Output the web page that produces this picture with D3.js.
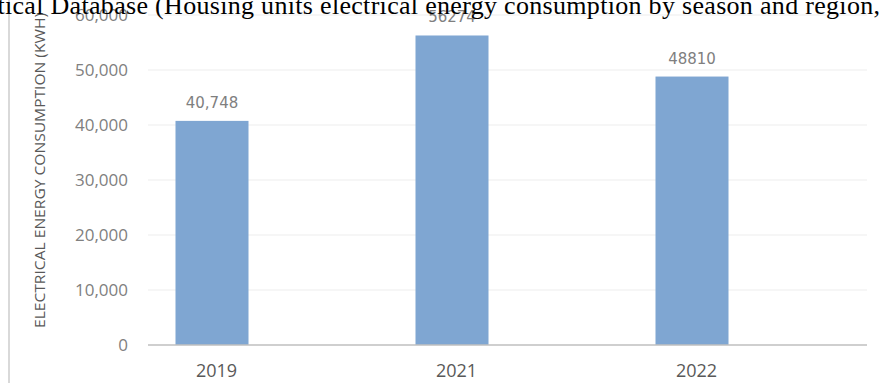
<!DOCTYPE html>
<html>
<head>
<meta charset="utf-8">
<script src="https://cdn.jsdelivr.net/npm/d3@7"></script>
<style>
  body { margin: 0; background: #fff; }
  svg { display: block; }
</style>
</head>
<body>
<svg id="chart"></svg>
<script>
const years = ["2019", "2021", "2022"];
const consumption = [40748, 56274, 48810];
const valueLabels = ["40,748", "56274", "48810"];
const yTicks = [0, 10000, 20000, 30000, 40000, 50000, 60000];

const width = 884, height = 383;
const svg = d3.select("#chart").attr("width", width).attr("height", height);

const plotLeft = 148, plotRight = 867;
const y = d3.scaleLinear().domain([0, 60000]).range([345, 15]);
const x = d3.scalePoint().domain(years).range([212, 692]);
const barWidth = 73;

// left border line
svg.append("line")
    .attr("x1", 9).attr("x2", 9)
    .attr("y1", 0).attr("y2", height)
    .attr("stroke", "#d9d9d9").attr("stroke-width", 2);

// gridlines
svg.append("g")
    .selectAll("line")
    .data(yTicks.filter(d => d > 0))
    .join("line")
    .attr("x1", plotLeft).attr("x2", plotRight)
    .attr("y1", d => y(d)).attr("y2", d => y(d))
    .attr("stroke", "#ededed").attr("stroke-width", 1);

// y axis labels
const yAxis = d3.axisLeft(y).tickValues(yTicks).tickSize(0).tickPadding(0)
    .tickFormat(d3.format(","));
svg.append("g")
    .attr("transform", `translate(128,0)`)
    .call(yAxis)
    .call(g => g.select(".domain").remove())
    .call(g => g.selectAll("text")
        .attr("font-family", "Open Sans")
        .attr("font-size", 17)
        .attr("fill", "#808080"));

// bars
svg.append("g")
    .selectAll("rect")
    .data(consumption)
    .join("rect")
    .attr("x", (d, i) => x(years[i]) - barWidth / 2)
    .attr("y", d => y(d))
    .attr("width", barWidth)
    .attr("height", d => y(0) - y(d))
    .attr("fill", "#7fa6d2");

// value labels
svg.append("g")
    .selectAll("text")
    .data(consumption)
    .join("text")
    .attr("x", (d, i) => x(years[i]))
    .attr("y", d => y(d) - 13)
    .attr("text-anchor", "middle")
    .attr("font-family", "DejaVu Sans")
    .attr("font-size", 15)
    .attr("fill", "#7f7f7f")
    .text((d, i) => valueLabels[i]);

// x axis baseline
svg.append("line")
    .attr("x1", plotLeft).attr("x2", plotRight)
    .attr("y1", y(0)).attr("y2", y(0))
    .attr("stroke", "#bfbfbf").attr("stroke-width", 1.5);

// x axis labels
const xAxis = d3.axisBottom(x).tickSize(0).tickPadding(0);
svg.append("g")
    .attr("transform", `translate(4,${y(0) + 32})`)
    .call(xAxis)
    .call(g => g.select(".domain").remove())
    .call(g => g.selectAll("text")
        .attr("dy", 0)
        .attr("font-family", "Open Sans")
        .attr("font-size", 18)
        .attr("fill", "#595959"));

// y axis title
svg.append("text")
    .attr("transform", "translate(45,170.5) rotate(-90)")
    .attr("text-anchor", "middle")
    .attr("font-family", "Open Sans")
    .attr("font-size", 14)
    .attr("textLength", 315)
    .attr("lengthAdjust", "spacingAndGlyphs")
    .attr("fill", "#595959")
    .text("ELECTRICAL ENERGY CONSUMPTION (KWH)");

// cropped caption overlapping the top
svg.append("text")
    .attr("x", -13)
    .attr("y", 14)
    .attr("font-family", "Liberation Serif")
    .attr("font-size", 26)
    .attr("textLength", 893)
    .attr("fill", "#000")
    .text("stical Database (Housing units electrical energy consumption by season and region,");
</script>
</body>
</html>
